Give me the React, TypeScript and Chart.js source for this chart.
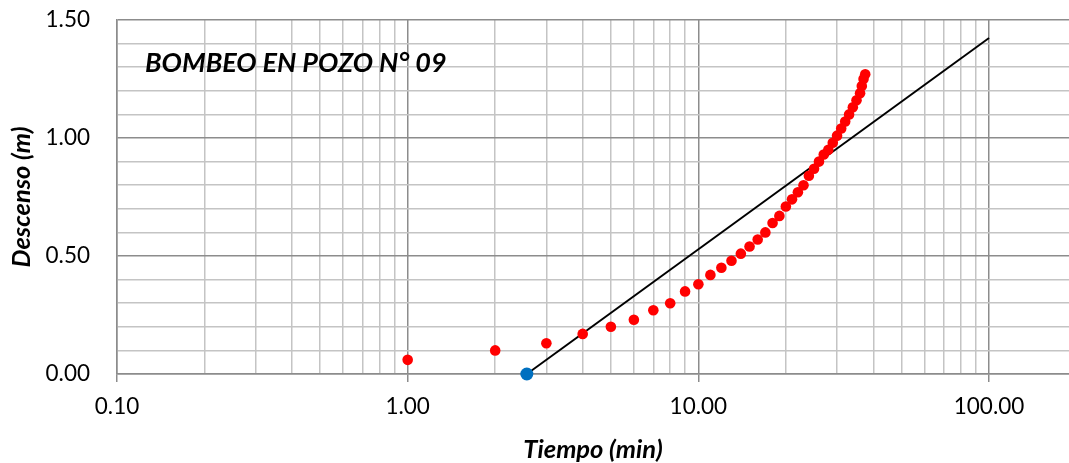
import React, { useEffect, useRef } from 'react';
import { Chart, registerables } from 'chart.js';

Chart.register(...registerables);

// Pumping test data (time in min, drawdown in m)
const TIME_MIN = [1, 2, 3, 4, 5, 6, 7, 8, 9, 10, 11, 12, 13, 14, 15, 16, 17, 18, 19, 20, 21, 22, 23, 24, 25, 26, 27, 28, 29, 30, 31, 32, 33, 34, 35, 36, 36.5, 37, 37.5];
const DRAWDOWN_M = [0.06, 0.10, 0.13, 0.17, 0.20, 0.23, 0.27, 0.30, 0.35, 0.38, 0.42, 0.45, 0.48, 0.51, 0.54, 0.57, 0.60, 0.64, 0.67, 0.71, 0.74, 0.77, 0.80, 0.84, 0.87, 0.90, 0.93, 0.95, 0.98, 1.01, 1.04, 1.07, 1.10, 1.13, 1.16, 1.19, 1.22, 1.25, 1.27];

// Fitted straight line (Cooper-Jacob)
const FIT_TIME = [2.57, 100];
const FIT_DRAWDOWN = [0, 1.424];

// t0 intercept point
const T0_TIME = [2.57];
const T0_DRAWDOWN = [0];

// Axis ticks
const X_TICKS = [0.1, 0.2, 0.3, 0.4, 0.5, 0.6, 0.7, 0.8, 0.9, 1, 2, 3, 4, 5, 6, 7, 8, 9, 10, 20, 30, 40, 50, 60, 70, 80, 90, 100];
const X_MAJOR = [0.1, 1, 10, 100];
const X_LABELS = ['0.10', '1.00', '10.00', '100.00'];
const Y_MAJOR = [0, 0.5, 1.0, 1.5];
const Y_LABELS = ['0.00', '0.50', '1.00', '1.50'];

const CHART_TITLE = 'BOMBEO EN POZO N° 09';
const X_TITLE = 'Tiempo (min)';
const Y_TITLE = 'Descenso (m)';

const FONT = 'Lato, "Open Sans", sans-serif';
const MAJOR_GRID = '#8c8c8c';
const MINOR_GRID = '#c4c4c4';

const near = (a: number, list: number[]) => list.findIndex((v) => Math.abs(v - a) < 1e-6 * Math.max(1, Math.abs(v)));

const innerTitle = {
  id: 'innerTitle',
  afterDraw(chart: any) {
    const { ctx, chartArea } = chart;
    ctx.save();
    ctx.font = `italic bold 27px ${FONT}`;
    ctx.fillStyle = '#000';
    ctx.textBaseline = 'alphabetic';
    ctx.textAlign = 'left';
    ctx.fillText(CHART_TITLE, chartArea.left + 28, chartArea.top + 52);
    ctx.restore();
  },
};

export default function App() {
  const ref = useRef<HTMLCanvasElement | null>(null);

  useEffect(() => {
    if (!ref.current) return;
    const chart = new Chart(ref.current, {
      type: 'scatter',
      data: {
        datasets: [
          {
            label: 't0',
            data: T0_TIME.map((t, i) => ({ x: t, y: T0_DRAWDOWN[i] })),
            backgroundColor: '#0070C0',
            borderColor: '#0070C0',
            pointRadius: 6.5,
            borderWidth: 0,
            clip: false,
          } as any,
          {
            label: 'Descenso',
            data: TIME_MIN.map((t, i) => ({ x: t, y: DRAWDOWN_M[i] })),
            backgroundColor: '#FF0000',
            borderColor: '#FF0000',
            pointRadius: 5.3,
            borderWidth: 0,
            clip: false,
          } as any,
          {
            label: 'Ajuste',
            data: FIT_TIME.map((t, i) => ({ x: t, y: FIT_DRAWDOWN[i] })),
            showLine: true,
            borderColor: '#000000',
            borderWidth: 2,
            pointRadius: 0,
            fill: false,
            clip: false,
          } as any,
        ],
      },
      options: {
        animation: false,
        responsive: false,
        maintainAspectRatio: false,
        layout: { autoPadding: false, padding: { top: 20, right: 0, left: 0, bottom: 0 } },
        plugins: {
          legend: { display: false },
          tooltip: { enabled: false },
          title: { display: false },
        },
        scales: {
          x: {
            type: 'logarithmic',
            min: 0.1,
            max: 188.4,
            afterBuildTicks: (scale: any) => {
              scale.ticks = X_TICKS.map((v) => ({ value: v }));
            },
            afterFit: (scale: any) => {
              scale.height = 89;
              scale.paddingLeft = 0;
              scale.paddingRight = 0;
            },
            ticks: {
              autoSkip: false,
              maxRotation: 0,
              padding: 11,
              color: '#000',
              font: { family: FONT, size: 22.5 },
              callback: (v: any) => {
                const i = near(Number(v), X_MAJOR);
                return i >= 0 ? X_LABELS[i] : '';
              },
            },
            grid: {
              color: (c: any) => (near(c.tick?.value, X_MAJOR) >= 0 ? MAJOR_GRID : MINOR_GRID),
              tickColor: (c: any) => (near(c.tick?.value, X_MAJOR) >= 0 ? MAJOR_GRID : 'rgba(0,0,0,0)'),
              tickLength: 8,
              lineWidth: 1.5,
            },
            border: { color: MAJOR_GRID, width: 1.5 },
            title: {
              display: true,
              text: X_TITLE,
              color: '#000',
              font: { family: FONT, size: 25.5, weight: 'bold', style: 'italic', lineHeight: 1 },
              padding: { top: 0, bottom: 0 },
            },
          } as any,
          y: {
            type: 'linear',
            min: 0,
            max: 1.5,
            afterFit: (scale: any) => {
              scale.width = 117;
              scale.paddingTop = 0;
              scale.paddingBottom = 0;
            },
            ticks: {
              stepSize: 0.1,
              autoSkip: false,
              padding: 27,
              color: '#000',
              font: { family: FONT, size: 22.5 },
              callback: (v: any) => {
                const i = near(Number(v), Y_MAJOR);
                return i >= 0 ? Y_LABELS[i] : '';
              },
            },
            grid: {
              color: (c: any) => (near(c.tick?.value, Y_MAJOR) >= 0 ? MAJOR_GRID : MINOR_GRID),
              drawTicks: false,
              lineWidth: 1.5,
            },
            border: { color: MAJOR_GRID, width: 1.5 },
            title: {
              display: true,
              text: Y_TITLE,
              color: '#000',
              font: { family: FONT, size: 25.5, weight: 'bold', style: 'italic', lineHeight: 1 },
              padding: { top: 9, bottom: 0 },
            },
          } as any,
        },
      },
      plugins: [innerTitle],
    } as any);
    return () => chart.destroy();
  }, []);

  return (
    <div style={{ position: 'fixed', left: 0, top: 0, width: 1069, height: 463, background: '#fff' }}>
      <canvas ref={ref} width={1069} height={463} style={{ width: 1069, height: 463, display: 'block' }} />
    </div>
  );
}
